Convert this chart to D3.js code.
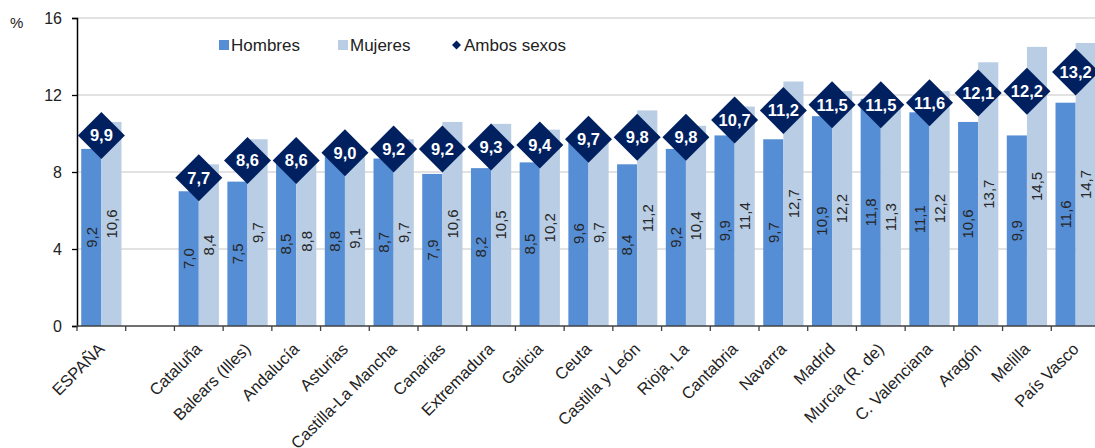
<!DOCTYPE html>
<head>
  <meta charset="utf-8">
  <script src="https://d3js.org/d3.v7.min.js"></script>
  <style>
    body { margin: 0; background: #fff; }
    svg { display: block; font-family: "Liberation Sans", Arial, sans-serif; }
  </style>
</head>
<body>
  <svg width="1095" height="448"></svg>
  <script>
  // categories ("" = empty gap after ESPAÑA)
  var regions = ["ESPAÑA", "", "Cataluña", "Balears (Illes)", "Andalucía", "Asturias",
    "Castilla-La Mancha", "Canarias", "Extremadura", "Galicia", "Ceuta", "Castilla y León",
    "Rioja, La", "Cantabria", "Navarra", "Madrid", "Murcia (R. de)", "C. Valenciana",
    "Aragón", "Melilla", "País Vasco"];
  var hombres = [9.2, null, 7.0, 7.5, 8.5, 8.8, 8.7, 7.9, 8.2, 8.5, 9.6, 8.4, 9.2, 9.9, 9.7, 10.9, 11.8, 11.1, 10.6, 9.9, 11.6];
  var mujeres = [10.6, null, 8.4, 9.7, 8.8, 9.1, 9.7, 10.6, 10.5, 10.2, 9.7, 11.2, 10.4, 11.4, 12.7, 12.2, 11.3, 12.2, 13.7, 14.5, 14.7];
  var ambos = [9.9, null, 7.7, 8.6, 8.6, 9.0, 9.2, 9.2, 9.3, 9.4, 9.7, 9.8, 9.8, 10.7, 11.2, 11.5, 11.5, 11.6, 12.1, 12.2, 13.2];
  var yTicks = [0, 4, 8, 12, 16];

  var svg = d3.select("svg");
  var cHom = "#558ed5", cMuj = "#b9cde5", cAmb = "#002060";

  var keys = regions.map(function(d, i) { return i; });
  var x = d3.scaleBand().domain(keys).range([77, 1100]).padding(0);
  var xs = d3.scaleBand().domain(["h", "m"]).range([0, x.bandwidth()]).paddingInner(0).paddingOuter(0.21);
  var y = d3.scaleLinear().domain([0, 16]).range([326, 18]);

  var fmt = function(v) { return v.toFixed(1).replace(".", ","); };

  // grid
  svg.append("g").selectAll("line")
    .data(yTicks.filter(function(d) { return d > 0; }))
    .enter().append("line")
    .attr("x1", 77).attr("x2", 1100)
    .attr("y1", function(d) { return y(d); })
    .attr("y2", function(d) { return y(d); })
    .attr("stroke", "#d9d9d9").attr("stroke-width", 1.3);

  // bars
  var rows = keys.filter(function(i) { return hombres[i] != null; });
  var g = svg.append("g");
  var series = [["h", hombres, cHom], ["m", mujeres, cMuj]];
  series.forEach(function(s) {
    g.selectAll(null).data(rows).enter().append("rect")
      .attr("x", function(i) { return x(i) + xs(s[0]); })
      .attr("width", xs.bandwidth())
      .attr("y", function(i) { return y(s[1][i]); })
      .attr("height", function(i) { return y(0) - y(s[1][i]); })
      .attr("fill", s[2]);
    g.selectAll(null).data(rows).enter().append("text")
      .attr("transform", function(i) {
        var cx = x(i) + xs(s[0]) + xs.bandwidth() / 2;
        var cy = (y(s[1][i]) + y(0)) / 2;
        return "translate(" + cx + "," + cy + ") rotate(-90)";
      })
      .attr("text-anchor", "middle")
      .attr("dy", "0.35em")
      .attr("font-size", 15)
      .attr("fill", "#262626")
      .text(function(i) { return fmt(s[1][i]); });
  });

  // axes
  var yAxis = svg.append("g").attr("transform", "translate(77,0)")
    .call(d3.axisLeft(y).tickValues(yTicks).tickSize(5).tickPadding(10));
  yAxis.select(".domain").attr("stroke", "#000").attr("stroke-width", 1.5);
  yAxis.selectAll(".tick line").attr("stroke", "#000").attr("stroke-width", 1.3);
  yAxis.selectAll("text").attr("font-size", 16).attr("fill", "#222")
    .attr("font-family", "Liberation Sans, Arial, sans-serif");

  var xAxisG = svg.append("g");
  xAxisG.append("line").attr("x1", 77).attr("x2", 1100).attr("y1", y(0)).attr("y2", y(0))
    .attr("stroke", "#404040").attr("stroke-width", 1.5);
  xAxisG.selectAll(null).data(keys).enter().append("line")
    .attr("x1", function(i) { return x(i); }).attr("x2", function(i) { return x(i); })
    .attr("y1", y(0)).attr("y2", y(0) + 5)
    .attr("stroke", "#404040").attr("stroke-width", 1.3);
  xAxisG.selectAll(null).data(keys).enter().append("text")
    .attr("transform", function(i) {
      return "translate(" + (x(i) + x.bandwidth() / 2) + "," + (y(0) + 20) + ") rotate(-45)";
    })
    .attr("text-anchor", "end")
    .attr("dy", "0.35em")
    .attr("font-size", 16.5)
    .attr("fill", "#222")
    .text(function(i) { return regions[i]; });

  // ambos sexos diamonds
  var r = 23.5;
  var amb = svg.append("g").selectAll("g").data(rows).enter().append("g")
    .attr("transform", function(i) {
      return "translate(" + (x(i) + x.bandwidth() / 2) + "," + y(ambos[i]) + ")";
    });
  amb.append("path")
    .attr("d", "M0," + (-r) + "L" + r + ",0L0," + r + "L" + (-r) + ",0Z")
    .attr("fill", cAmb);
  amb.append("text")
    .attr("text-anchor", "middle")
    .attr("dy", "0.36em")
    .attr("font-size", 16.5)
    .attr("font-weight", "bold")
    .attr("fill", "#fff")
    .text(function(i) { return fmt(ambos[i]); });

  // % label
  svg.append("text").attr("x", 10).attr("y", 28).attr("font-size", 15).attr("fill", "#222").text("%");

  // legend
  var legend = [["Hombres", cHom, 219, "sq"], ["Mujeres", cMuj, 338, "sq"], ["Ambos sexos", cAmb, 452, "dm"]];
  var lg = svg.append("g").selectAll("g").data(legend).enter().append("g")
    .attr("transform", function(d) { return "translate(" + d[2] + ",45)"; });
  lg.filter(function(d) { return d[3] == "sq"; }).append("rect")
    .attr("x", 0).attr("y", -5).attr("width", 10).attr("height", 10)
    .attr("fill", function(d) { return d[1]; });
  lg.filter(function(d) { return d[3] == "dm"; }).append("path")
    .attr("d", "M4.5,-4.5L9,0L4.5,4.5L0,0Z")
    .attr("fill", function(d) { return d[1]; });
  lg.append("text")
    .attr("x", 12)
    .attr("dy", "0.35em")
    .attr("font-size", 17)
    .attr("fill", "#222")
    .text(function(d) { return d[0]; });
  </script>
</body>
